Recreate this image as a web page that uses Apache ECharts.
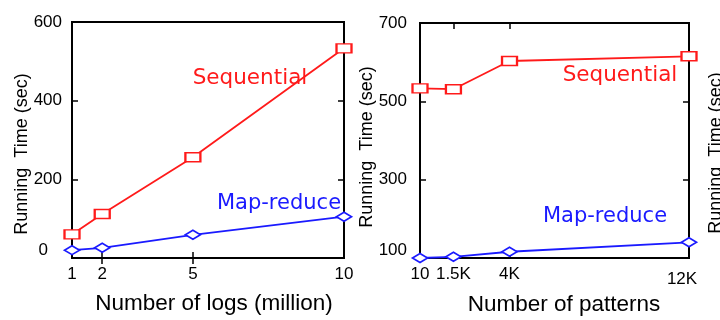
<!DOCTYPE html>
<html>
<head>
<meta charset="utf-8">
<script src="https://cdn.jsdelivr.net/npm/echarts@6/dist/echarts.min.js"></script>
<style>html,body{margin:0;padding:0;background:#fff}#c{width:720px;height:320px}</style>
</head>
<body>
<div id="c"></div>
<script>
// ---- data: left panel (number of logs, million) ----
const logsX = [1, 2, 5, 10];
const logsSequential = [60, 112, 256, 533];
const logsMapReduce = [20, 26, 59, 105];
const logsYTicks = [0, 200, 400, 600];
// ---- data: right panel (number of patterns) ----
const patX = [10, 1500, 4000, 12000];
const patXLabels = ['10', '1.5K', '4K', '12K'];
const patSequential = [533, 531, 603, 615];
const patMapReduce = [100, 103, 116, 140];
const patYTicks = [100, 300, 500, 700];

const RED = '#ff1a1a', BLUE = '#1a1aff';
const TF = 'Liberation Sans, Arial, Helvetica, sans-serif';
const AF = 'DejaVu Sans, sans-serif';

function pairs(xs, ys) { return xs.map((x, i) => [x, ys[i]]); }

const tickBase = { show: true, inside: true, length: 6, lineStyle: { color: '#000', width: 1.5 } };

function xAxes(grid, min, max, ticks, topTicks, fmt, rich) {
  return [
    { gridIndex: grid, type: 'value', min: min, max: max, position: 'bottom',
      axisLine: { show: false }, splitLine: { show: false },
      axisTick: Object.assign({}, tickBase, { customValues: ticks }),
      axisLabel: { customValues: ticks, color: '#000', fontFamily: TF, fontSize: 17, margin: 8,
                   formatter: fmt, rich: rich || {}, showMinLabel: true, showMaxLabel: true } },
    { gridIndex: grid, type: 'value', min: min, max: max, position: 'top',
      axisLine: { show: false }, splitLine: { show: false },
      axisTick: Object.assign({}, tickBase, { customValues: topTicks }),
      axisLabel: { show: false } }
  ];
}
function yAxes(grid, min, max, ticks, fmt, rich, margin) {
  return [
    { gridIndex: grid, type: 'value', min: min, max: max, position: 'left',
      axisLine: { show: false }, splitLine: { show: false },
      axisTick: Object.assign({}, tickBase, { customValues: ticks }),
      axisLabel: { customValues: ticks, color: '#000', fontFamily: TF, fontSize: 17, margin: margin,
                   formatter: fmt, rich: rich, showMinLabel: true, showMaxLabel: true } },
    { gridIndex: grid, type: 'value', min: min, max: max, position: 'right',
      axisLine: { show: false }, splitLine: { show: false },
      axisTick: Object.assign({}, tickBase, { customValues: ticks }),
      axisLabel: { show: false } }
  ];
}

function lineSeries(xi, yi, data, color, symbol) {
  return {
    type: 'line', xAxisIndex: xi, yAxisIndex: yi, data: data,
    symbol: symbol, symbolSize: [15, 9], showAllSymbol: true, clip: false,
    lineStyle: { color: color, width: 1.8 },
    itemStyle: { color: '#fff', borderColor: color, borderWidth: 1.8 },
    z: 3, animation: false
  };
}

const yName = (x, y) => ({ type: 'text', x: x, y: y, rotation: Math.PI / 2,
  style: { text: 'Running  Time (sec)', fill: '#000', font: '18px ' + TF, align: 'center', verticalAlign: 'middle' } });
const xName = (x, y, t) => ({ type: 'text', x: x, y: y,
  style: { text: t, fill: '#000', font: '22.5px ' + TF, align: 'center', verticalAlign: 'middle' } });

const gridBase = { show: true, borderColor: '#000', borderWidth: 2, backgroundColor: 'transparent',
                   containLabel: false, outerBoundsMode: 'none' };

const option = {
  animation: false,
  backgroundColor: '#fff',
  grid: [
    Object.assign({ left: 72, top: 22, width: 272, height: 236 }, gridBase),
    Object.assign({ left: 420, top: 23, width: 269, height: 235 }, gridBase)
  ],
  xAxis: [].concat(
    xAxes(0, 1, 10, logsX, [2, 5], v => String(v)),
    xAxes(1, 10, 12000, patX, [1500, 4000],
      v => { const i = patX.indexOf(v); const s = i >= 0 ? patXLabels[i] : ''; return v === 12000 ? '{k|' + s + '}' : s; },
      { k: { fontFamily: TF, fontSize: 17, color: '#000', padding: [5, 14, 0, 0] } })
  ),
  yAxis: [].concat(
    yAxes(0, 0, 600, logsYTicks, v => v === 0 ? '{z|0}' : String(v),
      { z: { fontFamily: TF, fontSize: 17, color: '#000', padding: [0, 14, 16, 0] } }, 10),
    yAxes(1, 100, 700, patYTicks, v => v === 100 ? '{z|100}' : String(v),
      { z: { fontFamily: TF, fontSize: 17, color: '#000', padding: [0, 0, 16, 0] } }, 13)
  ),
  series: [
    lineSeries(0, 0, pairs(logsX, logsSequential), RED, 'rect'),
    lineSeries(0, 0, pairs(logsX, logsMapReduce), BLUE, 'diamond'),
    lineSeries(2, 2, pairs(patX, patSequential), RED, 'rect'),
    lineSeries(2, 2, pairs(patX, patMapReduce), BLUE, 'diamond')
  ],
  graphic: [
    { type: 'text', x: 250, y: 78, style: { text: 'Sequential', fill: RED, font: '21.5px ' + AF, align: 'center', verticalAlign: 'middle' } },
    { type: 'text', x: 279, y: 204, style: { text: 'Map-reduce', fill: BLUE, font: '21px ' + AF, align: 'center', verticalAlign: 'middle' } },
    { type: 'text', x: 620, y: 75, style: { text: 'Sequential', fill: RED, font: '21.5px ' + AF, align: 'center', verticalAlign: 'middle' } },
    { type: 'text', x: 605, y: 217, style: { text: 'Map-reduce', fill: BLUE, font: '21px ' + AF, align: 'center', verticalAlign: 'middle' } },
    xName(214, 304, 'Number of logs (million)'),
    xName(564, 305, 'Number of patterns'),
    yName(22, 154),
    yName(367, 147),
    yName(716, 153)
  ]
};

const chart = echarts.init(document.getElementById('c'), null, { renderer: 'canvas' });
chart.setOption(option);
</script>
</body>
</html>
